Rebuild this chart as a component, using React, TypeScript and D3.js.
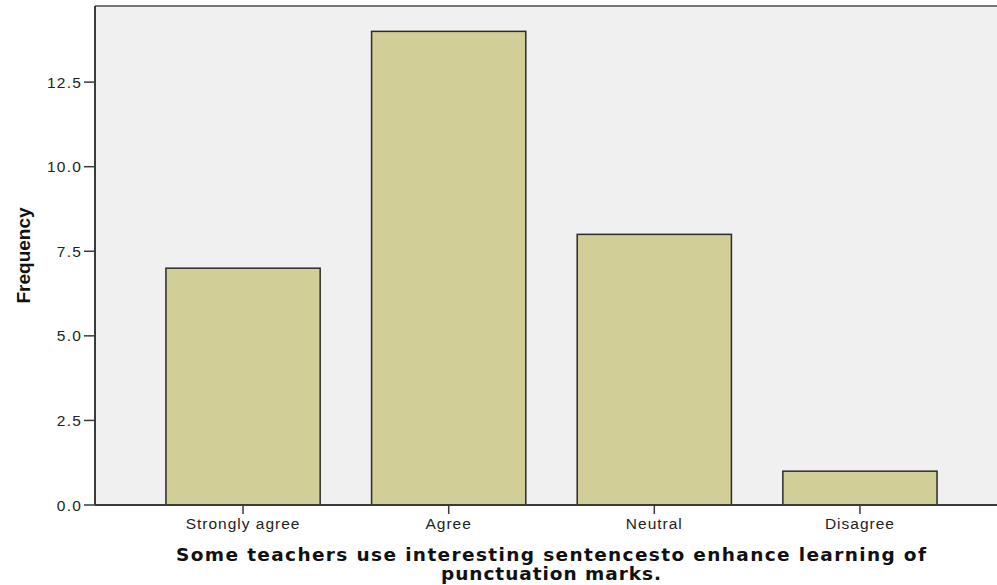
import * as d3 from "d3";

const categories = ["Strongly agree", "Agree", "Neutral", "Disagree"];
const frequencies = [7, 14, 8, 1];
const yTicks = [0, 2.5, 5, 7.5, 10, 12.5];
const titleLines = [
  "Some teachers use interesting sentencesto enhance learning of",
  "punctuation marks.",
];
const titleWidths = [750, 220];

const W = 997;
const H = 585;
const PLOT = { left: 95, right: 1008, top: 6, bottom: 505 };

function BarChart() {
  const x = d3
    .scaleBand<string>()
    .domain(categories)
    .range([PLOT.left, PLOT.right])
    .paddingInner(0.25)
    .paddingOuter(0.345);
  const y = d3.scaleLinear().domain([0, 14.75]).range([PLOT.bottom, PLOT.top]);

  const font = "Arial, 'Liberation Sans', sans-serif";

  return (
    <svg width={W} height={H} style={{ display: "block", position: "absolute", left: 0, top: 0 }}>
      <rect
        x={PLOT.left}
        y={PLOT.top}
        width={PLOT.right - PLOT.left}
        height={PLOT.bottom - PLOT.top}
        fill="#f0f0f0"
      />
      {/* top border */}
      <line x1={PLOT.left} x2={PLOT.right} y1={PLOT.top} y2={PLOT.top} stroke="#777" strokeWidth={2} />

      {categories.map((c, i) => (
        <rect
          key={c}
          x={x(c)!}
          y={y(frequencies[i])}
          width={x.bandwidth()}
          height={y(0) - y(frequencies[i])}
          fill="#d2ce98"
          stroke="#2b2b2b"
          strokeWidth={1.5}
        />
      ))}

      {/* y axis */}
      <line x1={PLOT.left} x2={PLOT.left} y1={PLOT.top} y2={PLOT.bottom} stroke="#3a3a3a" strokeWidth={2} />
      {yTicks.map((t) => (
        <g key={t} transform={`translate(0,${y(t)})`}>
          <line x1={PLOT.left - 11} x2={PLOT.left} stroke="#3a3a3a" strokeWidth={1.5} />
          <text x={PLOT.left - 13} dy="0.36em" textAnchor="end" fontFamily={font} fontSize={15.5} letterSpacing={1.2} fill="#222">
            {t.toFixed(1)}
          </text>
        </g>
      ))}

      {/* x axis */}
      <line x1={PLOT.left} x2={PLOT.right} y1={PLOT.bottom} y2={PLOT.bottom} stroke="#3a3a3a" strokeWidth={2} />
      {categories.map((c) => {
        const cx = x(c)! + x.bandwidth() / 2;
        return (
          <g key={c}>
            <line x1={cx} x2={cx} y1={PLOT.bottom} y2={PLOT.bottom + 9} stroke="#3a3a3a" strokeWidth={1.5} />
            <text x={cx} y={PLOT.bottom + 24} textAnchor="middle" fontFamily={font} fontSize={15.5} letterSpacing={1} fill="#222">
              {c}
            </text>
          </g>
        );
      })}

      {/* axis titles */}
      <text
        transform={`translate(30,${(PLOT.top + PLOT.bottom) / 2}) rotate(-90)`}
        textAnchor="middle"
        fontFamily={font}
        fontWeight="bold"
        fontSize={19}
        textLength={96}
        lengthAdjust="spacingAndGlyphs"
        fill="#111"
      >
        Frequency
      </text>
      {titleLines.map((l, i) => (
        <text
          key={i}
          x={551}
          y={561 + i * 19}
          textAnchor="middle"
          fontFamily="'DejaVu Sans', Verdana, sans-serif"
          fontWeight="bold"
          fontSize={18.5}
          textLength={titleWidths[i]}
          lengthAdjust="spacing"
          fill="#111"
        >
          {l}
        </text>
      ))}
    </svg>
  );
}

export default function App() {
  return <BarChart />;
}
